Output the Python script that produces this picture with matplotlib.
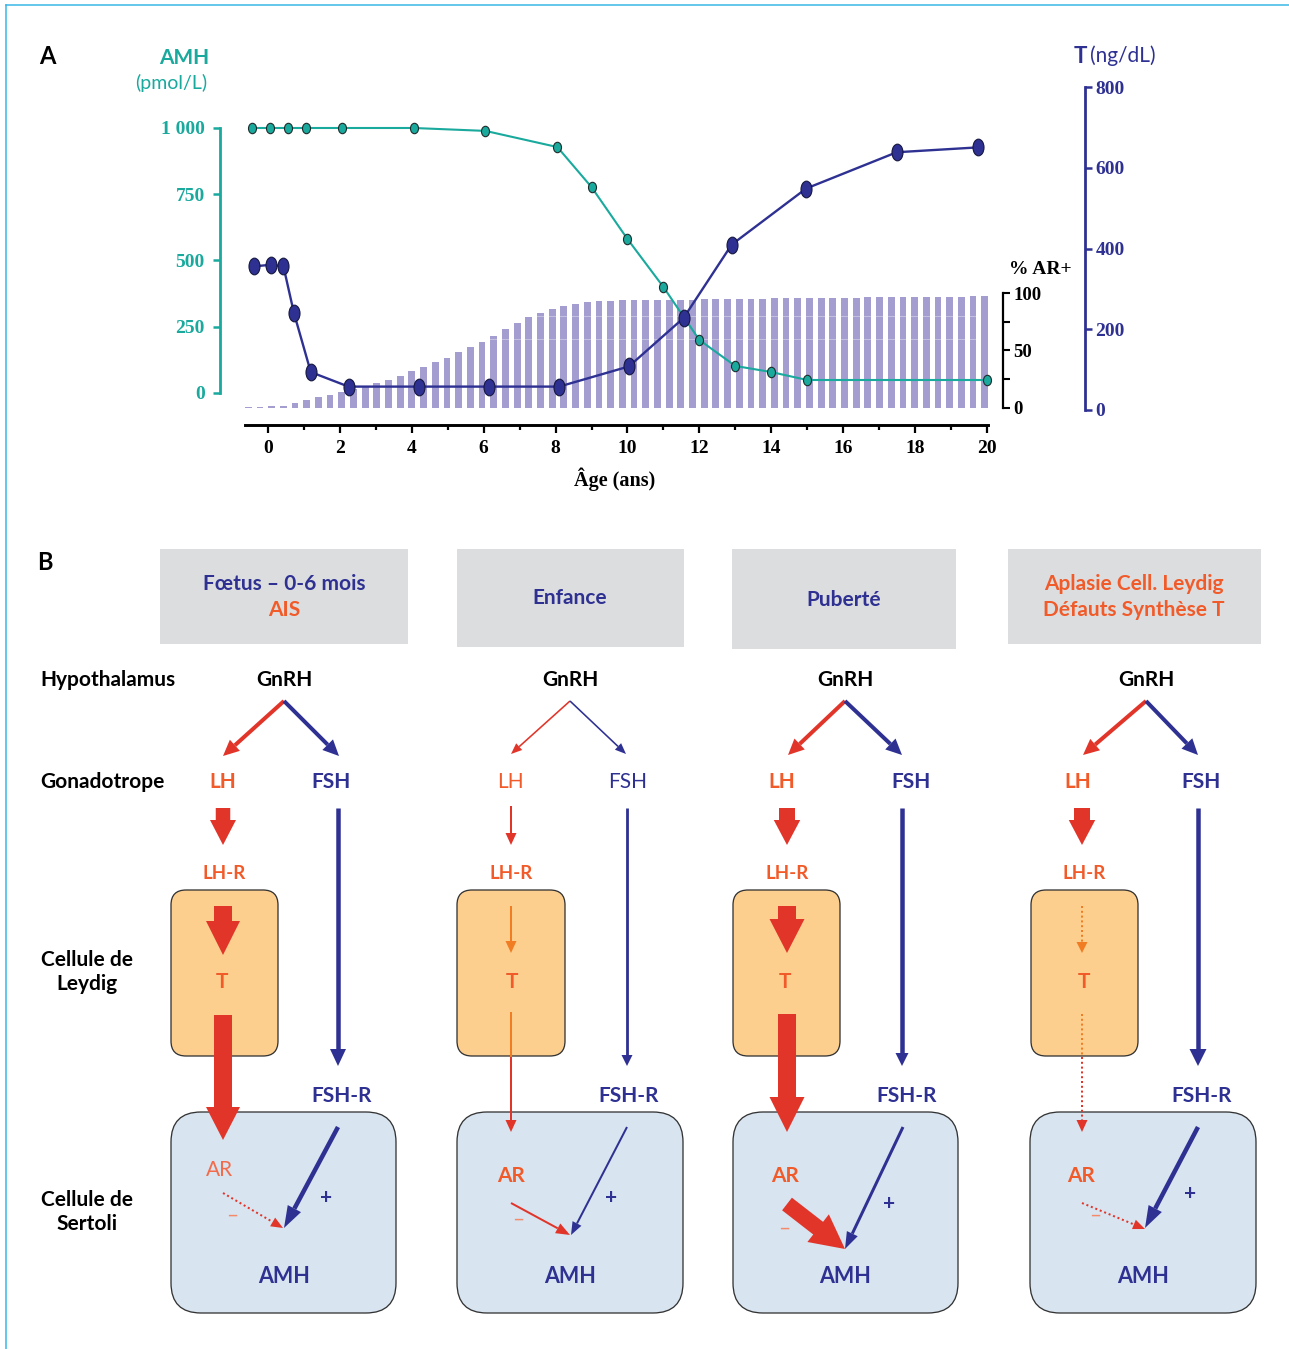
import matplotlib.pyplot as plt
import numpy as np
from matplotlib.patches import FancyBboxPatch, FancyArrow, Rectangle, Polygon
from matplotlib.path import Path
from matplotlib.transforms import Affine2D

# ---------------- panel A data ----------------
amh_age = [-0.45, 0.05, 0.55, 1.05, 2.05, 4.05, 6.05, 8.05, 9.0, 10.0, 11.0, 12.0, 13.0, 14.0, 15.0, 20.0]
amh_val = [1000, 1000, 1000, 1000, 1000, 1000, 989, 928, 777, 581, 400, 200, 102, 79, 49, 49]

t_age = [-0.40, 0.08, 0.43, 0.72, 1.19, 2.24, 4.19, 6.16, 8.10, 10.04, 11.56, 12.90, 14.97, 17.49, 19.74]
t_val = [356, 360, 356, 241, 94, 58, 58, 58, 58, 108, 228, 410, 549, 639, 651]

# % AR+ (one bar every ~4 months)
ar_pct = [0.2, 0.5, 1.0, 1.5, 3.8, 6.2, 8.8, 11.2, 13.2, 16.2,
          18.5, 21.5, 24.4, 27.4, 31.8, 35.6, 39.7, 43.8, 48.5, 52.9,
          57.4, 62.6, 68.5, 74.4, 79.4, 83.2, 86.2, 89.1, 90.9, 92.6,
          93.2, 93.5, 93.8, 93.8, 94.0, 94.0, 94.2, 94.3, 94.5, 94.6,
          94.8, 95.0, 95.1, 95.3, 95.4, 95.6, 95.7, 95.8, 95.9, 96.0,
          96.1, 96.2, 96.3, 96.4, 96.5, 96.6, 96.7, 96.8, 96.9, 97.0,
          97.1, 97.2, 97.3, 97.4]
ar_age = np.linspace(-0.55, 19.94, len(ar_pct))

x_ticks = [0, 2, 4, 6, 8, 10, 12, 14, 16, 18, 20]
amh_ticks = [0, 250, 500, 750, 1000]
amh_labels = ['0', '250', '500', '750', '1 000']
t_ticks = [0, 200, 400, 600, 800]
ar_ticks = [0, 50, 100]

TEAL = '#19a99d'
NAVY = '#2e3192'
RED = '#e1352a'
ORANGE = '#f15a29'
LORANGE = '#f58a6a'
AMBER = '#f07d23'
LAV = '#a39dd0'
CYAN = '#35b5e6'
SANS = ['Lato', 'DejaVu Sans']
SERIF = ['Liberation Serif', 'DejaVu Serif']

W, H = 1289, 1349
PX = 72 / 100  # points per pixel
fig = plt.figure(figsize=(W / 100, H / 100), dpi=100)

# overlay in pixel coordinates (diagram B, titles, frame)
axb = fig.add_axes([0, 0, 1, 1])
axb.set_xlim(0, W)
axb.set_ylim(H, 0)
axb.axis('off')

axb.plot([6, W], [5, 5], color=CYAN, lw=1.5 * PX)
axb.plot([6, 6], [5, H], color=CYAN, lw=1.5 * PX)


def txt(x, y, s, size=15, color='black', weight='bold', ha='center', family=SANS):
    axb.text(x, y + 0.36 * size / PX, s, fontsize=size, color=color, fontweight=weight,
             ha=ha, va='baseline', family=family, zorder=6)


# ---------------- panel A ----------------
L, R, T, B = 245, 988, 80, 425
ax = fig.add_axes([L / W, 1 - B / H, (R - L) / W, (B - T) / H])
ax_amh = ax.twinx()
ax_t = ax.twinx()

ax.set_xlim(-0.64, 20.03)
ax.set_ylim(-15.3, 286.8)
ax_amh.set_ylim(-120.8, 1181.1)
ax_t.set_ylim(-37.2, 818.1)

ax.bar(ar_age, ar_pct, width=0.19, color=LAV, zorder=1)
for lvl in (60, 80):
    ax.axhline(lvl, xmin=0.01, xmax=0.985, color='white', lw=0.8, alpha=0.35, zorder=2)

ell_a = Path.unit_circle().transformed(Affine2D().scale(0.77, 1))
ell_t = Path.unit_circle().transformed(Affine2D().scale(0.66, 1))
ax_amh.plot(amh_age, amh_val, color=TEAL, lw=1.5, marker=ell_a, ms=7.5,
            mfc=TEAL, mec='#1d2b2b', mew=0.8, clip_on=False)
ax_t.plot(t_age, t_val, color=NAVY, lw=1.7, marker=ell_t, ms=12,
          mfc=NAVY, mec='#15173f', mew=0.8, clip_on=False)

# x axis
for s in ('top', 'left'):
    ax.spines[s].set_visible(False)
ax.spines['bottom'].set_linewidth(2.1)
ax.set_xticks(x_ticks, [str(v) for v in x_ticks], fontfamily=SERIF, fontweight='bold', fontsize=14)
ax.set_xticks(range(1, 20, 2), minor=True)
ax.tick_params(axis='x', which='major', direction='out', length=6, width=1.6, pad=5)
ax.tick_params(axis='x', which='minor', direction='out', length=3.5, width=1.6)

# AR axis (right, black)
ax.yaxis.tick_right()
ax.spines['right'].set_position(('axes', (1003 - L) / (R - L)))
ax.spines['right'].set_bounds(0, 100)
ax.spines['right'].set_linewidth(1.6)
ax.set_yticks(ar_ticks, [str(v) for v in ar_ticks], fontfamily=SERIF, fontweight='bold', fontsize=13.5)
ax.set_yticks([25, 75], minor=True)
ax.tick_params(axis='y', which='both', direction='out', length=5, width=1.5, pad=2.5)

# AMH axis (left, teal)
for s in ('top', 'right', 'bottom'):
    ax_amh.spines[s].set_visible(False)
ax_amh.yaxis.tick_left()
ax_amh.spines['left'].set_visible(True)
ax_amh.spines['left'].set_position(('axes', (220 - L) / (R - L)))
ax_amh.spines['left'].set_bounds(0, 1000)
ax_amh.spines['left'].set_color(TEAL)
ax_amh.spines['left'].set_linewidth(2)
ax_amh.set_yticks(amh_ticks, amh_labels, fontfamily=SERIF, fontweight='bold', fontsize=14, color=TEAL)
ax_amh.tick_params(axis='y', direction='out', length=5, width=1.8, color=TEAL, pad=6)

# T axis (far right, navy)
for s in ('top', 'left', 'bottom'):
    ax_t.spines[s].set_visible(False)
ax_t.spines['right'].set_position(('axes', (1085 - L) / (R - L)))
ax_t.spines['right'].set_bounds(0, 800)
ax_t.spines['right'].set_color(NAVY)
ax_t.spines['right'].set_linewidth(2)
ax_t.set_yticks(t_ticks, [str(v) for v in t_ticks], fontfamily=SERIF, fontweight='bold', fontsize=14, color=NAVY)
ax_t.tick_params(axis='y', direction='out', length=5, width=1.8, color=NAVY, pad=2.5)

txt(47, 56, 'A', size=17)
txt(184, 56, 'AMH', color=TEAL)
txt(171, 82, '(pmol/L)', color=TEAL, weight='normal', size=14)
txt(1080, 55, 'T', color=NAVY, size=16)
txt(1090, 55, '(ng/dL)', color=NAVY, weight='normal', size=15, ha='left')
txt(1040, 267, '% AR+', size=14, family=SERIF)
txt(615, 479, 'Âge (ans)', size=14.5, family=SERIF)

# ---------------- panel B ----------------


def arrow(x0, y0, x1, y1, color, lw, hl, hw, ls='-', z=4):
    d = np.array([x1 - x0, y1 - y0], float)
    u = d / np.hypot(*d)
    n = np.array([-u[1], u[0]])
    base = np.array([x1, y1]) - u * hl
    axb.plot([x0, base[0]], [y0, base[1]], color=color, lw=lw * PX, ls=ls,
             solid_capstyle='butt', dash_capstyle='butt', zorder=z)
    axb.add_patch(Polygon([(x1, y1), base + n * hw / 2, base - n * hw / 2],
                          closed=True, fc=color, ec='none', zorder=z))


def block(x0, y0, x1, y1, w, hw, hl, color=RED, z=5):
    axb.add_patch(FancyArrow(x0, y0, x1 - x0, y1 - y0, width=w, head_width=hw,
                             head_length=hl, length_includes_head=True,
                             fc=color, ec='none', zorder=z))


def rbox(x0, y0, x1, y1, fc, r):
    axb.add_patch(FancyBboxPatch((x0, y0), x1 - x0, y1 - y0,
                                 boxstyle=f'round,pad=0,rounding_size={r}',
                                 fc=fc, ec='#333333', lw=1.3 * PX, zorder=2))


DOT = (0, (1, 1.4))

txt(45, 561, 'B', size=17)

# header boxes
for x0, x1, y1 in [(160, 408, 644), (457, 684, 647), (732, 956, 649), (1008, 1261, 644)]:
    axb.add_patch(Rectangle((x0, 549), x1 - x0, y1 - 549, fc='#dcdddf', ec='none', zorder=1))
txt(284, 583, 'Fœtus – 0-6 mois', color=NAVY)
txt(284, 609, 'AIS', color=ORANGE)
txt(570, 597, 'Enfance', color=NAVY)
txt(844, 598, 'Puberté', color=NAVY)
txt(1134, 583, 'Aplasie Cell. Leydig', color=ORANGE)
txt(1134, 609, 'Défauts Synthèse T', color=ORANGE)

# row labels
txt(40, 679, 'Hypothalamus', ha='left')
txt(40, 781, 'Gonadotrope', ha='left')
txt(87, 959, 'Cellule de')
txt(87, 983, 'Leydig')
txt(87, 1198, 'Cellule de')
txt(87, 1223, 'Sertoli')

# cell boxes
for x0, x1 in [(171, 278), (457, 565), (733, 840), (1031, 1138)]:
    rbox(x0, 890, x1, 1056, '#fdcf8e', 15)
for x0, x1 in [(171, 396), (457, 683), (733, 958), (1030, 1256)]:
    rbox(x0, 1112, x1, 1313, '#d8e4f0', 30)

# --- column 1 : foetus / AIS
txt(284, 679, 'GnRH')
arrow(284, 701, 223, 756, RED, 4, 16, 15)
arrow(284, 701, 339, 756, NAVY, 4, 16, 15)
txt(223, 781, 'LH', color=ORANGE)
txt(331, 781, 'FSH', color=NAVY)
block(223, 808, 223, 845, 14.5, 26, 25)
txt(224, 872, 'LH-R', color=ORANGE, size=13.5)
block(223, 906, 223, 955, 18, 34, 34)
txt(222, 981, 'T', color=ORANGE)
block(223, 1015, 223, 1140, 18, 34, 33)
arrow(338, 808, 338, 1066, NAVY, 4.5, 17, 16)
txt(342, 1095, 'FSH-R', color=NAVY)
txt(220, 1169, 'AR', color='#f26b4a', weight='normal')
arrow(338, 1127, 284, 1228, NAVY, 4.5, 22, 15)
arrow(223, 1193, 283, 1228, RED, 2, 12, 10, ls=DOT)
txt(326, 1196, '+', color=NAVY)
txt(232, 1214, '–', color=LORANGE, weight='normal', size=15)
txt(284, 1275, 'AMH', color=NAVY, size=15.5)

# --- column 2 : enfance
txt(570, 679, 'GnRH')
arrow(570, 701, 511, 754, RED, 1.6, 11, 9)
arrow(570, 701, 626, 754, NAVY, 1.6, 11, 9)
txt(510, 781, 'LH', color=ORANGE, weight='normal')
txt(628, 781, 'FSH', color=NAVY, weight='normal')
arrow(511, 806, 511, 845, RED, 2, 12, 11)
txt(511, 872, 'LH-R', color=ORANGE, size=13.5)
arrow(511, 906, 511, 953, AMBER, 2, 12, 11)
txt(512, 981, 'T', color=ORANGE)
axb.plot([511, 511], [1013, 1057], color=AMBER, lw=2 * PX, zorder=4)
arrow(511, 1057, 511, 1132, RED, 2, 12, 11)
arrow(627, 808, 627, 1066, NAVY, 2.8, 11, 11)
txt(629, 1095, 'FSH-R', color=NAVY)
txt(511, 1174, 'AR', color=ORANGE)
arrow(627, 1127, 571, 1235, NAVY, 2, 13, 10)
arrow(511, 1203, 570, 1235, RED, 2, 14, 11)
txt(611, 1197, '+', color=NAVY)
txt(518, 1218, '–', color=LORANGE, weight='normal', size=15)
txt(570, 1275, 'AMH', color=NAVY, size=15.5)

# --- column 3 : puberte
txt(845, 679, 'GnRH')
arrow(845, 701, 788, 755, RED, 4, 16, 15)
arrow(845, 701, 902, 755, NAVY, 4, 16, 15)
txt(782, 781, 'LH', color=ORANGE)
txt(911, 781, 'FSH', color=NAVY)
block(787, 808, 787, 845, 16, 26.5, 25)
txt(787, 872, 'LH-R', color=ORANGE, size=13.5)
block(787, 906, 787, 953, 18, 35, 34)
txt(785, 981, 'T', color=ORANGE)
block(787, 1014, 787, 1132, 18, 35, 35)
arrow(902, 808, 902, 1066, NAVY, 4.5, 13, 13)
txt(907, 1095, 'FSH-R', color=NAVY)
txt(785, 1174, 'AR', color=ORANGE)
arrow(903, 1127, 845, 1249, NAVY, 3, 17, 12)
block(787, 1204, 845, 1249, 16, 35, 34)
txt(889, 1203, '+', color=NAVY)
txt(784, 1227, '–', color=LORANGE, weight='normal', size=15)
txt(845, 1275, 'AMH', color=NAVY, size=15.5)

# --- column 4 : aplasie / defauts synthese T
txt(1146, 679, 'GnRH')
arrow(1146, 701, 1083, 755, RED, 4, 16, 15)
arrow(1146, 701, 1198, 755, NAVY, 4, 16, 15)
txt(1078, 781, 'LH', color=ORANGE)
txt(1201, 781, 'FSH', color=NAVY)
block(1082, 808, 1082, 845, 16, 26.5, 25)
txt(1084, 872, 'LH-R', color=ORANGE, size=13.5)
arrow(1082, 906, 1082, 953, AMBER, 2, 11, 11, ls=DOT)
txt(1084, 981, 'T', color=ORANGE)
axb.plot([1082, 1082], [1014, 1057], color=AMBER, lw=2 * PX, ls=DOT, zorder=4)
arrow(1082, 1057, 1082, 1132, RED, 2, 12, 11, ls=DOT)
arrow(1198, 808, 1198, 1066, NAVY, 4.5, 17, 17)
txt(1202, 1095, 'FSH-R', color=NAVY)
txt(1081, 1174, 'AR', color=ORANGE)
arrow(1198, 1127, 1145, 1228, NAVY, 4.5, 22, 15)
arrow(1082, 1203, 1145, 1229, RED, 2, 12, 10, ls=DOT)
txt(1190, 1193, '+', color=NAVY)
txt(1095, 1214, '–', color=LORANGE, weight='normal', size=15)
txt(1143, 1275, 'AMH', color=NAVY, size=15.5)

fig.savefig('out.png', dpi=100)
